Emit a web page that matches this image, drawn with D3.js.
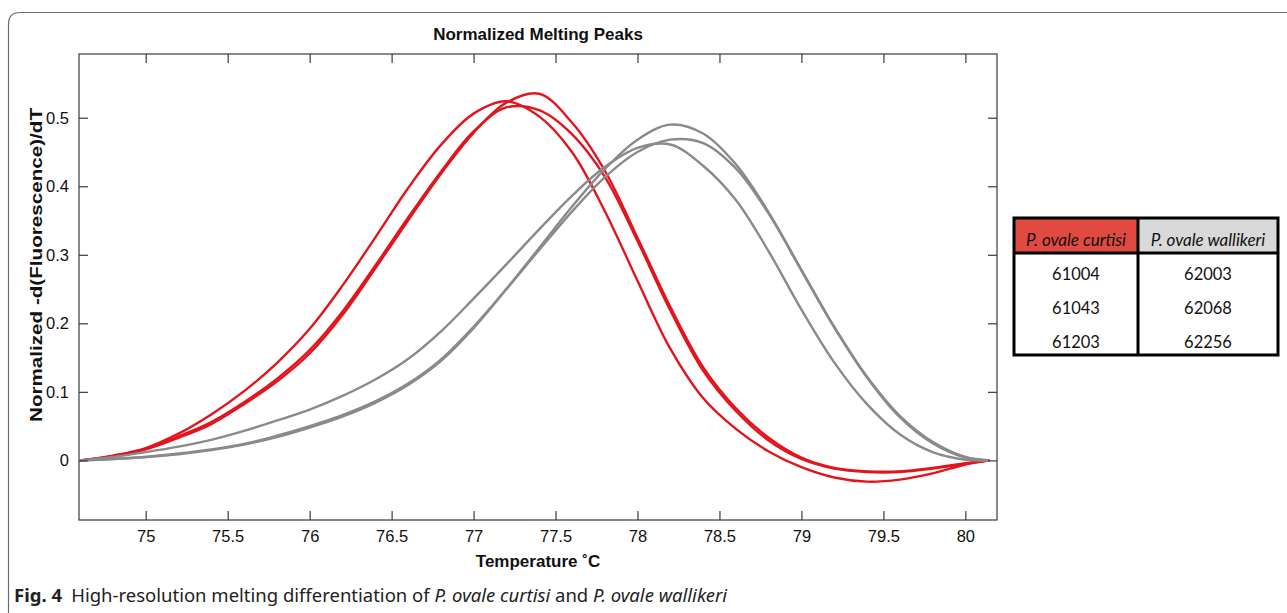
<!DOCTYPE html>
<html>
<head>
<meta charset="utf-8">
<script src="https://cdn.jsdelivr.net/npm/d3@7"></script>
<style>
  body { margin: 0; background: #fff; }
  svg { display: block; }
</style>
</head>
<body>
<svg id="chart"></svg>
<script>
// Melting peak curves (temperature in deg C)
var temps = [74.6, 74.8, 75.0, 75.2, 75.4, 75.6, 75.8, 76.0, 76.2, 76.4, 76.6, 76.8, 77.0, 77.2,
  77.4, 77.6, 77.8, 78.0, 78.2, 78.4, 78.6, 78.8, 79.0, 79.2, 79.4, 79.6, 79.8, 80.0, 80.15]

// P. ovale curtisi (red)
var curtisiA = [0, 0.007, 0.018, 0.039, 0.067, 0.101, 0.142, 0.192, 0.255, 0.325, 0.397, 0.460, 0.506, 0.524,
  0.502, 0.450, 0.364, 0.262, 0.163, 0.091, 0.046, 0.013, -0.010, -0.025, -0.031, -0.028, -0.019, -0.006, 0]
var curtisiB = [0, 0.005, 0.016, 0.033, 0.053, 0.082, 0.115, 0.156, 0.212, 0.280, 0.350, 0.418, 0.478, 0.522,
  0.535, 0.493, 0.423, 0.325, 0.224, 0.136, 0.076, 0.033, 0.004, -0.011, -0.016, -0.016, -0.011, -0.004, 0]
var curtisiC = [0, 0.006, 0.017, 0.035, 0.056, 0.085, 0.119, 0.161, 0.217, 0.284, 0.354, 0.421, 0.480, 0.515,
  0.511, 0.476, 0.414, 0.320, 0.219, 0.131, 0.072, 0.029, 0.002, -0.012, -0.017, -0.017, -0.012, -0.005, 0]

// P. ovale wallikeri (grey)
var wallikeriA = [0, 0.005, 0.012, 0.020, 0.030, 0.043, 0.058, 0.074, 0.094, 0.118, 0.148, 0.188, 0.236, 0.286,
  0.337, 0.386, 0.428, 0.456, 0.461, 0.430, 0.380, 0.305, 0.220, 0.143, 0.082, 0.038, 0.012, 0.001, 0]
var wallikeriB = [0, 0.002, 0.005, 0.009, 0.015, 0.023, 0.034, 0.048, 0.064, 0.084, 0.110, 0.145, 0.193, 0.250,
  0.310, 0.370, 0.425, 0.468, 0.490, 0.477, 0.432, 0.362, 0.278, 0.195, 0.122, 0.065, 0.027, 0.005, 0]
var wallikeriC = [0, 0.002, 0.005, 0.010, 0.016, 0.024, 0.036, 0.050, 0.066, 0.086, 0.112, 0.147, 0.195, 0.250,
  0.307, 0.363, 0.413, 0.450, 0.468, 0.463, 0.426, 0.360, 0.277, 0.194, 0.121, 0.063, 0.025, 0.004, 0]

var xTicks = [75, 75.5, 76, 76.5, 77, 77.5, 78, 78.5, 79, 79.5, 80]
var yTicks = [0, 0.1, 0.2, 0.3, 0.4, 0.5]

// legend table
var tableHeads = ["P. ovale curtisi", "P. ovale wallikeri"]
var curtisiIds = ["61004", "61043", "61203"]
var wallikeriIds = ["62003", "62068", "62256"]

var W = 1287, H = 613
var plot = {left: 79, top: 54, right: 997, bottom: 520}
var red = "#e3141c", grey = "#8a8a8a"

var svg = d3.select("#chart")
  .attr("width", W)
  .attr("height", H)

// outer figure border (rounded top-left corner)
svg.append("path")
  .attr("d", "M8.5," + H + " L8.5,24 Q8.5,12.5 20,12.5 L" + W + ",12.5")
  .attr("fill", "none")
  .attr("stroke", "#6b6b6b")
  .attr("stroke-width", 1.2)

var x = d3.scaleLinear().domain([74.593, 80.193]).range([plot.left, plot.right])
var y = d3.scaleLinear().domain([-0.087, 0.593]).range([plot.bottom, plot.top])

svg.append("clipPath").attr("id", "clip")
  .append("rect")
  .attr("x", plot.left).attr("y", plot.top)
  .attr("width", plot.right - plot.left).attr("height", plot.bottom - plot.top)

var line = d3.line()
  .x(function(d, i) { return x(temps[i]) })
  .y(function(d) { return y(d) })
  .curve(d3.curveCatmullRom.alpha(0.5))

var curves = svg.append("g").attr("clip-path", "url(#clip)")

// red first, grey drawn over it
;[curtisiA, curtisiB, curtisiC].forEach(function(s) {
  curves.append("path")
    .attr("d", line(s))
    .attr("fill", "none")
    .attr("stroke", red)
    .attr("stroke-width", 2.4)
})
;[wallikeriA, wallikeriB, wallikeriC].forEach(function(s) {
  curves.append("path")
    .attr("d", line(s))
    .attr("fill", "none")
    .attr("stroke", grey)
    .attr("stroke-width", 2.4)
})

// axes, ticks point inwards on all four sides
var tickFont = "Liberation Sans, Arial, sans-serif"

var bottomAxis = svg.append("g")
  .attr("transform", "translate(0," + plot.bottom + ")")
  .call(d3.axisBottom(x).tickValues(xTicks).tickSizeInner(-9).tickSizeOuter(0).tickPadding(10)
    .tickFormat(function(d) { return String(d) }))
var topAxis = svg.append("g")
  .attr("transform", "translate(0," + plot.top + ")")
  .call(d3.axisTop(x).tickValues(xTicks).tickSizeInner(-9).tickSizeOuter(0).tickFormat(""))
var leftAxis = svg.append("g")
  .attr("transform", "translate(" + plot.left + ",0)")
  .call(d3.axisLeft(y).tickValues(yTicks).tickSizeInner(-9).tickSizeOuter(0).tickPadding(10)
    .tickFormat(function(d) { return String(d) }))
var rightAxis = svg.append("g")
  .attr("transform", "translate(" + plot.right + ",0)")
  .call(d3.axisRight(y).tickValues(yTicks).tickSizeInner(-9).tickSizeOuter(0).tickFormat(""))

;[bottomAxis, topAxis, leftAxis, rightAxis].forEach(function(g) {
  g.select(".domain").remove()
  g.selectAll(".tick line").attr("stroke", "#3a3a3a").attr("stroke-width", 1.2)
  g.selectAll(".tick text")
    .attr("fill", "#111")
    .style("font-family", tickFont)
    .style("font-size", "16.5px")
})

svg.append("rect")
  .attr("x", plot.left).attr("y", plot.top)
  .attr("width", plot.right - plot.left).attr("height", plot.bottom - plot.top)
  .attr("fill", "none")
  .attr("stroke", "#3a3a3a")
  .attr("stroke-width", 1.2)

// titles
svg.append("text")
  .attr("x", (plot.left + plot.right) / 2)
  .attr("y", 40)
  .attr("text-anchor", "middle")
  .style("font-family", tickFont)
  .style("font-weight", "bold")
  .style("font-size", "17px")
  .attr("fill", "#111")
  .text("Normalized Melting Peaks")

svg.append("text")
  .attr("x", (plot.left + plot.right) / 2)
  .attr("y", 567)
  .attr("text-anchor", "middle")
  .style("font-family", tickFont)
  .style("font-weight", "bold")
  .style("font-size", "17px")
  .attr("fill", "#111")
  .text("Temperature \u02DAC")

svg.append("text")
  .attr("transform", "translate(42,265) rotate(-90)")
  .attr("text-anchor", "middle")
  .attr("textLength", 314)
  .attr("lengthAdjust", "spacingAndGlyphs")
  .style("font-family", tickFont)
  .style("font-weight", "bold")
  .style("font-size", "17px")
  .attr("fill", "#111")
  .text("Normalized -d(Fluorescence)/dT")

// legend table
var tbl = {left: 1014, top: 218, right: 1278, bottom: 355, mid: 1138, head: 253}
var tableFont = "Lato, Open Sans, sans-serif"
var legend = svg.append("g")

legend.append("rect")
  .attr("x", tbl.left).attr("y", tbl.top)
  .attr("width", tbl.mid - tbl.left).attr("height", tbl.head - tbl.top)
  .attr("fill", "#e04a40")
legend.append("rect")
  .attr("x", tbl.mid).attr("y", tbl.top)
  .attr("width", tbl.right - tbl.mid).attr("height", tbl.head - tbl.top)
  .attr("fill", "#d9d9d9")

var colCenters = [(tbl.left + tbl.mid) / 2, (tbl.mid + tbl.right) / 2]
legend.selectAll("text.head")
  .data(tableHeads)
  .enter().append("text")
  .attr("class", "head")
  .attr("x", function(d, i) { return colCenters[i] })
  .attr("y", 240)
  .attr("dy", "0.35em")
  .attr("text-anchor", "middle")
  .style("font-family", tableFont)
  .style("font-style", "italic")
  .style("font-size", "17px")
  .attr("fill", "#111")
  .text(function(d) { return d })

var rowY = [274, 308, 342]
;[curtisiIds, wallikeriIds].forEach(function(ids, c) {
  legend.selectAll("text.col" + c)
    .data(ids)
    .enter().append("text")
    .attr("class", "col" + c)
    .attr("x", colCenters[c])
    .attr("y", function(d, i) { return rowY[i] })
    .attr("dy", "0.35em")
    .attr("text-anchor", "middle")
    .style("font-family", tableFont)
    .style("font-size", "16.5px")
    .attr("fill", "#111")
    .text(function(d) { return d })
})

legend.append("rect")
  .attr("x", tbl.left).attr("y", tbl.top)
  .attr("width", tbl.right - tbl.left).attr("height", tbl.bottom - tbl.top)
  .attr("fill", "none").attr("stroke", "#000").attr("stroke-width", 3)
legend.append("line")
  .attr("x1", tbl.left).attr("x2", tbl.right).attr("y1", tbl.head).attr("y2", tbl.head)
  .attr("stroke", "#000").attr("stroke-width", 3)
legend.append("line")
  .attr("x1", tbl.mid).attr("x2", tbl.mid).attr("y1", tbl.top).attr("y2", tbl.bottom)
  .attr("stroke", "#000").attr("stroke-width", 3)

// caption
var caption = svg.append("text")
  .attr("x", 14)
  .attr("y", 602)
  .style("font-family", "Noto Sans, Open Sans, sans-serif")
  .style("font-size", "18.5px")
  .attr("fill", "#222")
caption.append("tspan").style("font-weight", "bold").text("Fig. 4")
caption.append("tspan").text("\u2002High-resolution melting differentiation of ")
caption.append("tspan").style("font-style", "italic").text("P. ovale curtisi")
caption.append("tspan").text(" and ")
caption.append("tspan").style("font-style", "italic").text("P. ovale wallikeri")
</script>
</body>
</html>
